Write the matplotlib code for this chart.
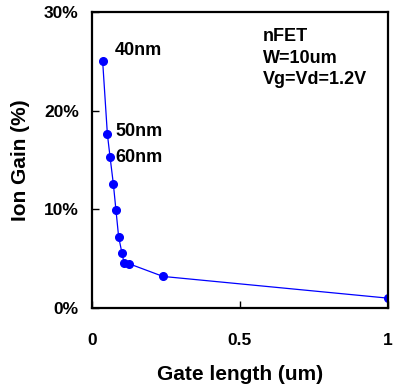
import matplotlib
matplotlib.use('Agg')
import matplotlib.pyplot as plt
from matplotlib.ticker import FuncFormatter

plt.rcParams['font.family'] = ['Liberation Sans', 'DejaVu Sans']
plt.rcParams['font.weight'] = 'bold'

# Gate length (um) vs Ion gain (%)
gate_length = [0.036, 0.052, 0.061, 0.072, 0.081, 0.090, 0.101, 0.108, 0.124, 0.24, 1.0]
ion_gain = [25.0, 17.6, 15.3, 12.6, 9.9, 7.2, 5.6, 4.6, 4.5, 3.2, 1.0]

node_labels = ['40nm', '50nm', '60nm']
node_label_y = [25.6, 17.4, 14.8]

cond_lines = ['nFET', 'W=10um', 'Vg=Vd=1.2V']
cond_y = [27.1, 24.8, 22.75]

fig = plt.figure(figsize=(3.99, 3.89), dpi=100)
ax = fig.add_axes([0.2306, 0.2082, 0.7418, 0.7608])

ax.plot(gate_length, ion_gain, color='#0000ff', lw=0.9, marker='o',
        markersize=5.5, markerfacecolor='#0000ff', markeredgecolor='#0000ff')

# node labels next to the first points
for lab, y in zip(node_labels, node_label_y):
    ax.text(0.078, y, lab, fontsize=13, fontweight='bold', va='baseline', ha='left')

# bias conditions
for line, y in zip(cond_lines, cond_y):
    ax.text(0.578, y, line, fontsize=13, fontweight='bold', va='baseline', ha='left')

ax.set_xlim(0, 1)
ax.set_ylim(0, 30)
ax.set_xticks([0, 0.5, 1])
ax.set_xticklabels(['0', '0.5', '1'])
ax.set_yticks([0, 10, 20, 30])
ax.yaxis.set_major_formatter(FuncFormatter(lambda v, p: f'{int(v)}%'))

ax.tick_params(direction='in', length=5, width=1, labelsize=12.5)
ax.tick_params(axis='x', pad=18)
ax.tick_params(axis='y', pad=9.5)
for lbl in ax.get_xticklabels() + ax.get_yticklabels():
    lbl.set_fontweight('bold')
for s in ax.spines.values():
    s.set_linewidth(1.6)

ax.set_xlabel('Gate length (um)', fontsize=15, fontweight='bold', labelpad=12)
ax.set_ylabel('Ion Gain (%)', fontsize=15, fontweight='bold', labelpad=10)

fig.savefig('out.png', dpi=100)
